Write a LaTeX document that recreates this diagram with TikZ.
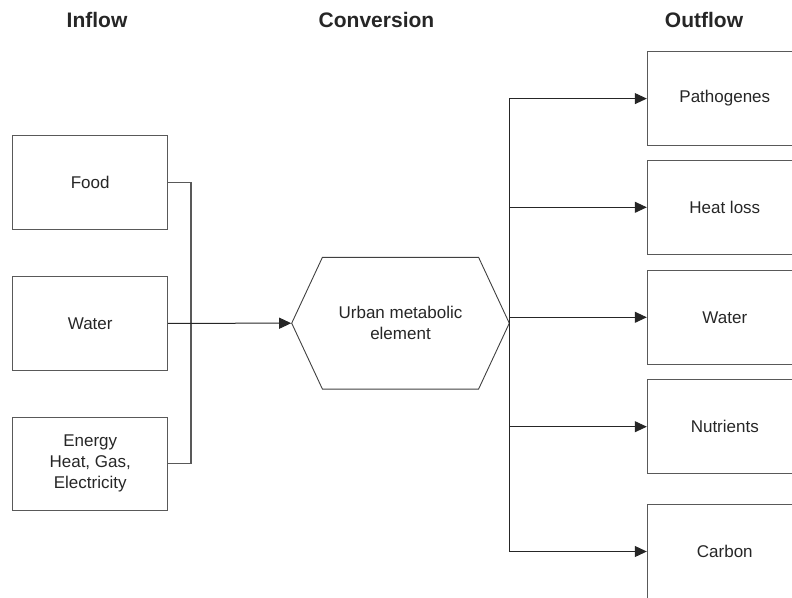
\documentclass[tikz,border=0pt]{standalone}
\usepackage{fontspec}
\setmainfont{Liberation Sans}
\usetikzlibrary{positioning,shapes.symbols,arrows.meta}

\begin{document}
\begin{tikzpicture}[x=1pt,y=-1pt,
	box/.style={draw=black!65, line width=1pt, minimum width=155pt, minimum height=93.5pt, align=center, text=black!85, font=\fontsize{17}{21}\selectfont},
	hexbox/.style={signal, signal to=east and west, signal pointer angle=130, draw=black!75, line width=0.9pt, minimum width=217.6pt, minimum height=131.7pt, align=center, text=black!85, font=\fontsize{17}{21}\selectfont},
	header/.style={text=black!85, font=\fontsize{21}{25}\selectfont\bfseries},
	flow/.style={draw=black!85, line width=1pt, -{Triangle[length=12pt,width=11pt]}},
	bus/.style={draw=black!65, line width=1.1pt}]
	\useasboundingbox (0,0) rectangle (792,597);

	% Instances/Symbols:
	\node[box] (food) at (90.2, 182.5) {Food};
	\node[box] (water) at (90.2, 323.3) {Water};
	\node[box] (energy) at (90.2, 463.8) {Energy\\Heat, Gas,\\Electricity};

	\node[hexbox] (conv) at (400.5, 323.2) {Urban metabolic\\element};

	\node[box] (patho) at (724.8, 98.6) {Pathogenes};
	\node[box] (heat) at (724.8, 207.3) {Heat loss};
	\node[box] (owater) at (724.8, 317.3) {Water};
	\node[box] (nutri) at (724.8, 426.7) {Nutrients};
	\node[box] (carbon) at (724.8, 551.5) {Carbon};

	\coordinate (inbus) at (191, 323.3);

	% Lines:
	\draw[bus] (food.east) -| (inbus);
	\draw[bus] (energy.east) -| (inbus);
	\draw[flow] (water.east) -- (conv.west);

	\draw[flow] (conv.east) |- (patho.west);
	\draw[flow] (conv.east) |- (heat.west);
	\draw[flow] (conv.east) |- (owater.west);
	\draw[flow] (conv.east) |- (nutri.west);
	\draw[flow] (conv.east) |- (carbon.west);

	% Labels
	\node[header] (hin) at (97, 20) {Inflow};
	\node[header] (hconv) at (376.5, 20) {Conversion};
	\node[header] (hout) at (704, 20) {Outflow};

\end{tikzpicture}
\end{document}
